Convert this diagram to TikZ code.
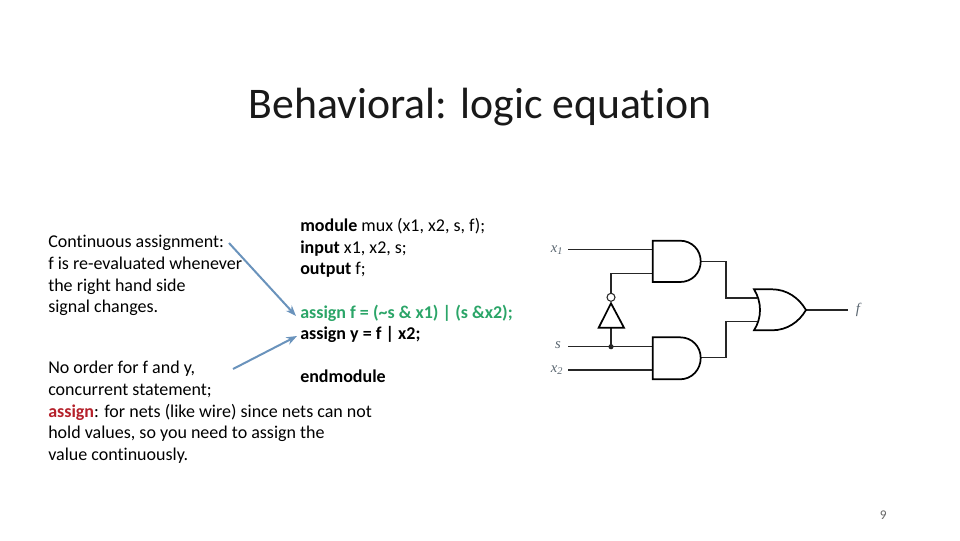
\documentclass[tikz,border=0pt]{standalone}
\usepackage{fontspec}
\setmainfont[Ligatures=NoCommon]{Carlito}
\newfontfamily\serifx{Liberation Serif}
\definecolor{arrowblue}{HTML}{6A93BC}
\definecolor{codegreen}{HTML}{2BA568}
\definecolor{kwred}{HTML}{B5202A}
\definecolor{lab}{HTML}{5A6670}
\tikzset{
  gate/.style={draw=black,line width=1.3pt,line join=miter},
  wire/.style={draw=black!85,line width=0.9pt},
  para/.style={anchor=north west,align=left,inner sep=0pt,font=\fontsize{13.5}{16.3}\selectfont},
  parb/.style={para,font=\bfseries\fontsize{13.5}{16.3}\selectfont},
  callout/.style={draw=arrowblue,line width=1.5pt,-{Stealth[length=8pt,width=6pt]}},
  lbl/.style={inner sep=0pt,text=lab,font=\serifx\itshape\fontsize{11}{11}\selectfont},
}
\usetikzlibrary{arrows.meta}
\begin{document}
\begin{tikzpicture}[x=0.75pt,y=-0.75pt]
\useasboundingbox (0,0) rectangle (960,540);
\node[anchor=base,inner sep=0pt,text=black!90,font=\fontsize{32.8}{36}\selectfont] (title) at (480,118) {Behavioral: logic equation};
\node[para] (cont) at (48,235) {Continuous assignment:\\f is re-evaluated whenever\\the right hand side\\signal changes.};
\node[para] (order) at (48,361) {No order for f and y,\\concurrent statement;\\\textcolor{kwred}{\textbf{assign}}: for nets (like wire) since nets can not\\hold values, so you need to assign the\\value continuously.};
\node[para] (mod) at (300,218) {\textbf{module} mux (x1, x2, s, f);\\\textbf{input} x1, x2, s;\\\textbf{output} f;};
\node[parb,text=codegreen] (asg) at (300,305) {assign f = (\textasciitilde s \& x1) | (s \&x2);};
\node[parb] (asy) at (300,326) {assign y = f | x2;};
\node[parb] (endm) at (300,370) {endmodule};
\node[anchor=base east,inner sep=0pt,text=black!60,font=\fontsize{10}{12}\selectfont] (pg) at (887,519) {9};
% callouts
\coordinate (c1a) at (229,243); \coordinate (c1b) at (296,316);
\coordinate (c2a) at (233,369); \coordinate (c2b) at (297,336);
\draw[callout] (c1a) -- (c1b);
\draw[callout] (c2a) -- (c2b);
% labels
\node[lbl] (lx1) at (557,250) {x\textsubscript{1}};
\node[lbl] (ls) at (558,345) {s};
\node[lbl] (lx2) at (557,370) {x\textsubscript{2}};
\node[lbl] (lf) at (858,310) {f};
\coordinate (jx1) at (568.3,249.7);
\coordinate (js) at (568.3,346.7);
\coordinate (jx2) at (568.3,370);
\coordinate (jf) at (848.3,310);
% wires
\draw[wire] (jx1) -- (652.7,249.7);
\draw[wire] (js) -- (652.7,346.7);
\draw[wire] (jx2) -- (652.7,370);
\draw[wire] (652.7,273.3) -- (611,273.3) -- (611,293.3);
\draw[wire] (611,327.7) -- (611,346.7);
\fill[black!85] (611,346.7) circle (2.6);
\draw[wire] (700.7,261.7) -- (726,261.7) -- (726,298) -- (757,298);
\draw[wire] (700.7,357.700) -- (726,357.700) -- (726,321.7) -- (757,321.7);
\draw[wire] (806,310) -- (jf);
% gates
\draw[gate] (652.7,240.7) -- (680,240.7) .. controls (692,240.7) and (700.7,250) .. (700.7,261.4) .. controls (700.7,273) and (692,282) .. (680,282) -- (652.7,282) -- cycle;
\draw[gate] (652.7,337.3) -- (680,337.3) .. controls (692,337.3) and (700.7,346.500) .. (700.7,358) .. controls (700.7,369.500) and (692,379.3) .. (680,379.3) -- (652.7,379.3) -- cycle;
\draw[gate] (754,289.3) -- (772,289.3) .. controls (787,289.3) and (799,298) .. (806,310) .. controls (799,322) and (787,330.3) .. (772,330.3) -- (754,330.3) .. controls (762,318) and (762,302) .. (754,289.3) -- cycle;
\draw[gate] (611,303.3) -- (624,327.7) -- (598.7,327.7) -- cycle;
\draw[draw=black!85,line width=0.8pt,fill=white] (611,297.3) circle (4);
\end{tikzpicture}
\end{document}
